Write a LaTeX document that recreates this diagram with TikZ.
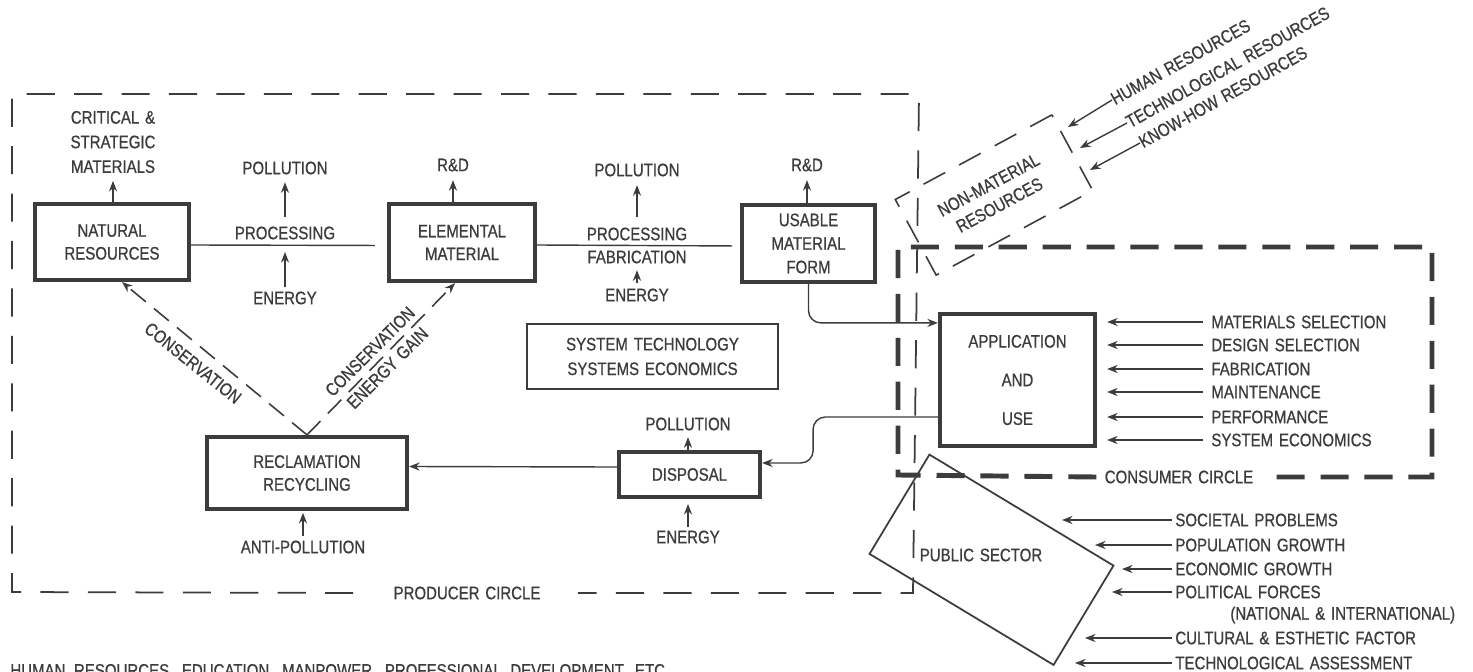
\documentclass[tikz,border=0pt]{standalone}
\usepackage{fontspec}
\setmainfont{Liberation Sans}[FakeStretch=0.83,WordSpace=1.4,FakeBold=0.7]
\usetikzlibrary{arrows.meta,calc}
\definecolor{ink}{HTML}{3C3C3C}
\newcommand{\dfont}{\fontsize{10.3pt}{13pt}\selectfont}
\begin{document}
\begin{tikzpicture}[x=0.02cm,y=-0.02cm,
  every node/.style={font=\dfont,text=ink,inner sep=0pt},
  heavybox/.style={draw=ink,line width=2.4pt,align=center},
  thinbox/.style={draw=ink,line width=1pt,align=center},
  conn/.style={draw=ink,line width=0.8pt},
  arr/.style={conn,-{Stealth[length=6pt,width=4.6pt]}},
  darr/.style={draw=ink,line width=0.9pt,dash pattern=on 11pt off 6pt,-{Stealth[length=6pt,width=4.6pt]}},
  lbl/.style={align=center},
  producer/.style={draw=ink,line width=1pt,dash pattern=on 16pt off 11pt},
  consumer/.style={draw=ink,line width=2.8pt,dash pattern=on 16pt off 9pt},
  nmframe/.style={draw=ink,line width=0.9pt,dash pattern=on 14pt off 9pt,align=center}]
\useasboundingbox (0,0) rectangle (1473,672);
\fill[white] (0,0) rectangle (1473,672);

% main boxes
\node[heavybox,minimum width=3.08cm,minimum height=1.52cm] (nat) at (112,242) {NATURAL\\RESOURCES};
\node[heavybox,minimum width=2.92cm,minimum height=1.54cm] (elem) at (462,242.5) {ELEMENTAL\\MATERIAL};
\node[heavybox,minimum width=2.66cm,minimum height=1.54cm] (usable) at (808.5,243.5) {USABLE\\[0.4pt]MATERIAL\\[0.4pt]FORM};
\node[heavybox,minimum width=3.10cm,minimum height=2.64cm] (app) at (1017.5,380) {APPLICATION\\[9pt]AND\\[9pt]USE};
\node[heavybox,minimum width=2.82cm,minimum height=0.90cm] (disp) at (689.5,474.5) {DISPOSAL};
\node[heavybox,minimum width=4.00cm,minimum height=1.44cm] (recl) at (307,473) {RECLAMATION\\RECYCLING};
\node[thinbox,minimum width=5.02cm,minimum height=1.30cm] (sys) at (652.5,356.5) {SYSTEM TECHNOLOGY\\[1pt]SYSTEMS ECONOMICS};

% labels around the producer chain
\node[lbl] (crit) at (113,142) {CRITICAL \&\\[1pt]STRATEGIC\\[1pt]MATERIALS};
\node (pol1) at (285,168) {POLLUTION};
\node (proc1) at (285,233) {PROCESSING};
\node (en1) at (285,298) {ENERGY};
\node (rd1) at (453,165) {R\&D};
\node (pol2) at (637,170) {POLLUTION};
\node (proc2) at (637,234) {PROCESSING};
\node (fab) at (637,257) {FABRICATION};
\node (en2) at (637,295) {ENERGY};
\node (rd2) at (807,165) {R\&D};
\node (pol3) at (688,424) {POLLUTION};
\node (en3) at (688,537) {ENERGY};
\node (anti) at (303,547) {ANTI-POLLUTION};

\node[rotate=-38.7] (consL) at (193,363) {CONSERVATION};
\node[rotate=45] (consR) at (370,351.5) {CONSERVATION};
\node[rotate=45] (egain) at (387.5,368) {ENERGY GAIN};

% frames
\node (prodlbl) at (467,593) {PRODUCER CIRCLE};
\draw[producer] ([xshift=-0.8cm]prodlbl.west) -- (12,592) -- (12,94) -- (919,94) -- (913,593) -- ([xshift=0.74cm]prodlbl.east);
\node (conslbl) at (1179,477) {CONSUMER CIRCLE};
\draw[consumer] ([xshift=-0.16cm]conslbl.west) -- (898,475) -- (898,247) -- (1432,247) -- (1432,477) -- ([xshift=0.24cm]conslbl.east);

% non-material resources
\node[nmframe,rotate=28.4,minimum width=3.56cm,minimum height=1.72cm] (nm) at (994,195) {NON-MATERIAL\\RESOURCES};
\node[rotate=29,anchor=west] (hum) at (1112,100) {HUMAN RESOURCES};
\node[rotate=29,anchor=west] (tech) at (1127,123) {TECHNOLOGICAL RESOURCES};
\node[rotate=29,anchor=west] (know) at (1140,143) {KNOW-HOW RESOURCES};
\coordinate (h1) at (1068,127);
\coordinate (h2) at (1080,148);
\coordinate (h3) at (1090,170);
\draw[arr] (hum.west) -- (h1);
\draw[arr] (tech.west) -- (h2);
\draw[arr] (know.west) -- (h3);

% public sector
\node[draw=ink,line width=1pt,rotate=-31.1,minimum width=4.3cm,minimum height=2.32cm] (pub) at (991.5,559.75) {};
\node (pubtxt) at (981,555) {PUBLIC SECTOR};

% consumer list
\node[anchor=west] (ms) at (1211,322) {MATERIALS SELECTION};
\node[anchor=west] (ds) at (1211,345) {DESIGN SELECTION};
\node[anchor=west] (fb) at (1211,369) {FABRICATION};
\node[anchor=west] (mt) at (1211,392) {MAINTENANCE};
\node[anchor=west] (pf) at (1211,417) {PERFORMANCE};
\node[anchor=west] (se) at (1211,440) {SYSTEM ECONOMICS};
\foreach \n in {ms,ds,fb,mt,pf,se}
  \draw[arr,shorten <=4.5pt,shorten >=5.7pt] (\n.west) -- (\n.west -| app.east);

% public list
\node[anchor=west] (sp) at (1175,520) {SOCIETAL PROBLEMS};
\node[anchor=west] (pg) at (1175,545) {POPULATION GROWTH};
\node[anchor=west] (eg) at (1175,569) {ECONOMIC GROWTH};
\node[anchor=west] (pfo) at (1175,592) {POLITICAL FORCES};
\node[anchor=west] (ni) at (1230,615) {(NATIONAL \& INTERNATIONAL)};
\node[anchor=west] (ce) at (1175,638) {CULTURAL \& ESTHETIC FACTOR};
\node[anchor=west] (ta) at (1175,663) {TECHNOLOGICAL ASSESSMENT};
\coordinate (ps1) at (1062,520);
\coordinate (ps2) at (1095,545);
\coordinate (ps3) at (1122,569);
\coordinate (ps4) at (1112,592);
\coordinate (ps5) at (1085,638);
\coordinate (ps6) at (1075,663);
\draw[arr,shorten <=1.7pt] (sp.west) -- (ps1);
\draw[arr,shorten <=1.7pt] (pg.west) -- (ps2);
\draw[arr,shorten <=1.7pt] (eg.west) -- (ps3);
\draw[arr,shorten <=1.7pt] (pfo.west) -- (ps4);
\draw[arr,shorten <=1.7pt] (ce.west) -- (ps5);
\draw[arr,shorten <=1.7pt] (ta.west) -- (ps6);

% chain connectors
\draw[conn,shorten >=6.8pt] ([yshift=-0.06cm]nat.east) -- ([yshift=-0.06cm]elem.west);
\draw[conn,shorten >=4.5pt] ([yshift=-0.05cm]elem.east) -- ([yshift=-0.05cm]usable.west);
\draw[arr,rounded corners=7pt] (usable.south) |- ([yshift=-0.22cm]app.north west);
\draw[arr,rounded corners=7pt] ([yshift=-0.74cm]app.west) -| ([xshift=1.02cm,yshift=0.23cm]disp.east) -- ([yshift=0.23cm]disp.east);
\draw[arr] ([yshift=0.15cm]disp.west) -- ([yshift=0.13cm]recl.east);
\draw[darr] (recl.north) -- ([xshift=0.2cm]nat.south);
\draw[darr] (recl.north) -- ([xshift=-0.14cm]elem.south);

% label arrows
\draw[arr,shorten >=4.3pt] (nat.north -| crit.south) -- (crit.south);
\draw[arr,shorten <=5.4pt,shorten >=4.3pt] (proc1.north) -- (pol1.south);
\draw[arr,shorten <=2.6pt,shorten >=7pt] (en1.north) -- (proc1.south);
\draw[arr,shorten >=4.8pt] (elem.north -| rd1.south) -- (rd1.south);
\draw[arr,shorten <=5.7pt,shorten >=4.8pt] (proc2.north) -- (pol2.south);
\draw[arr,shorten <=3pt,shorten >=3.7pt] (en2.north) -- (fab.south);
\draw[arr,shorten >=4.8pt] (usable.north -| rd2.south) -- (rd2.south);
\draw[arr,shorten >=3.7pt] (disp.north -| pol3.south) -- (pol3.south);
\draw[arr,shorten <=2pt,shorten >=2.8pt] (en3.north) -- (disp.south -| en3.north);
\draw[arr,shorten <=2.6pt,shorten >=1pt] (anti.north) -- (recl.south -| anti.north);

% bottom line of text (cut by the lower edge)
\node[anchor=west] (hrbottom) at (10,671.5) {\makebox[375pt][s]{HUMAN RESOURCES, EDUCATION, MANPOWER, PROFESSIONAL DEVELOPMENT, ETC.}};
\end{tikzpicture}
\end{document}
